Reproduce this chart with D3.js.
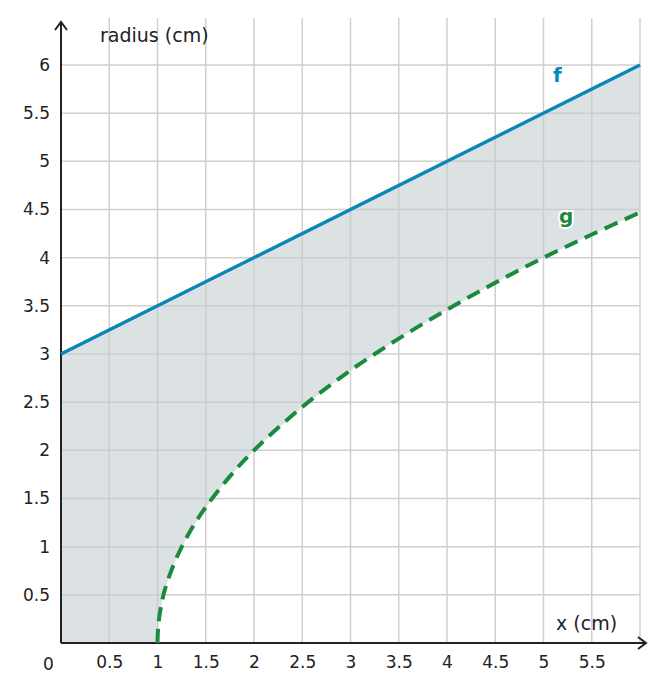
<!DOCTYPE html>
<html><head><meta charset="utf-8">
<script src="https://cdn.jsdelivr.net/npm/d3@7"></script>
<style>
body{margin:0;background:#fff;font-family:"DejaVu Sans",sans-serif;}
.grid line{stroke:#cfcfcf;stroke-width:1.5}
.tick text{font-size:17px;fill:#222;font-family:"DejaVu Sans",sans-serif}
</style></head><body>
<script>
// values
var xTicks = [0.5,1,1.5,2,2.5,3,3.5,4,4.5,5,5.5];
var yTicks = [0.5,1,1.5,2,2.5,3,3.5,4,4.5,5,5.5,6];
var fX = [0, 6];
var fY = [3, 6];
var gX = [1, 1.01, 1.05, 1.1, 1.2, 1.35, 1.5, 1.75, 2, 2.5, 3, 3.5, 4, 4.5, 5, 5.5, 6];
var gY = [0, 0.2, 0.45, 0.63, 0.89, 1.18, 1.41, 1.73, 2, 2.45, 2.83, 3.16, 3.46, 3.74, 4, 4.24, 4.47];

var width = 656, height = 692;
var svg = d3.select("body").append("svg").attr("width", width).attr("height", height);

var x = d3.scaleLinear().domain([0, 6]).range([61, 640]);
var y = d3.scaleLinear().domain([0, 6]).range([643, 65]);

// grid
var grid = svg.append("g").attr("class", "grid");
grid.selectAll(".gx").data(xTicks.concat([6])).enter().append("line")
    .attr("x1", d => x(d)).attr("x2", d => x(d)).attr("y1", 643).attr("y2", 18);
grid.selectAll(".gy").data(yTicks).enter().append("line")
    .attr("x1", 61).attr("x2", 640).attr("y1", d => y(d)).attr("y2", d => y(d));

var fPts = fX.map((d, i) => [d, fY[i]]);
var gPts = gX.map((d, i) => [d, gY[i]]);

// shaded area: along f, then back along g and the axis
var region = [[0, 0], [0, fY[0]], [6, fY[1]]].concat(gPts.slice().reverse());
svg.append("path")
    .datum(region)
    .attr("d", d3.line().x(d => x(d[0])).y(d => y(d[1])))
    .attr("fill", "#c5cdd1").attr("fill-opacity", 0.6);

// axes
svg.append("line").attr("x1", 61).attr("x2", 645).attr("y1", 643).attr("y2", 643)
    .attr("stroke", "#222").attr("stroke-width", 2);
svg.append("line").attr("x1", 61).attr("x2", 61).attr("y1", 643).attr("y2", 22)
    .attr("stroke", "#222").attr("stroke-width", 2);
svg.append("path").attr("d", "M638,637 L646,643 L638,649").attr("fill", "none").attr("stroke", "#222").attr("stroke-width", 2);
svg.append("path").attr("d", "M55,30 L61,22 L67,30").attr("fill", "none").attr("stroke", "#222").attr("stroke-width", 2);

var xAxis = svg.append("g").attr("transform", "translate(0,643)")
    .call(d3.axisBottom(x).tickValues(xTicks).tickSize(0).tickPadding(13).tickFormat(d3.format("")));
xAxis.select(".domain").remove();
var yAxis = svg.append("g").attr("transform", "translate(61,0)")
    .call(d3.axisLeft(y).tickValues(yTicks).tickSize(0).tickPadding(11).tickFormat(d3.format("")));
yAxis.select(".domain").remove();

svg.append("text").attr("x", 43).attr("y", 670).attr("font-size", 17).attr("fill", "#222").text("0");
svg.append("text").attr("x", 100).attr("y", 42).attr("font-size", 19).attr("fill", "#222").text("radius (cm)");
svg.append("text").attr("x", 556).attr("y", 630).attr("font-size", 19).attr("fill", "#222").text("x (cm)");

// curves
svg.append("path").datum(fPts)
    .attr("d", d3.line().x(d => x(d[0])).y(d => y(d[1])))
    .attr("fill", "none").attr("stroke", "#0a86b8").attr("stroke-width", 3.5);
svg.append("path").datum(gPts)
    .attr("d", d3.line().x(d => x(d[0])).y(d => y(d[1])).curve(d3.curveCatmullRom))
    .attr("fill", "none").attr("stroke", "#1b8a3e").attr("stroke-width", 4)
    .attr("stroke-dasharray", "14,8");

svg.append("text").attr("x", 553).attr("y", 82).attr("font-size", 20).attr("font-weight", "bold")
    .attr("fill", "#0a86b8").text("f");
svg.append("text").attr("x", 559).attr("y", 223).attr("font-size", 20).attr("font-weight", "bold")
    .attr("fill", "#1b8a3e").attr("stroke", "#fff").attr("stroke-width", 4).attr("paint-order", "stroke").text("g");
</script>
</body></html>
